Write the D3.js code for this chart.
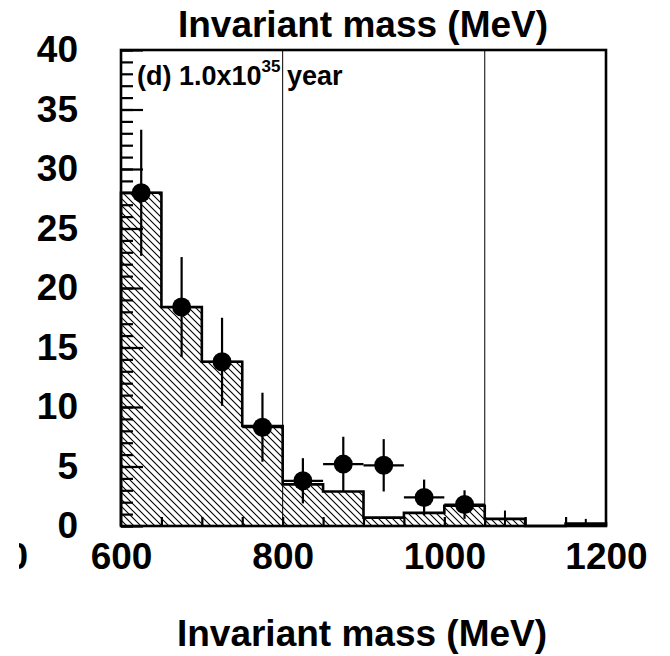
<!DOCTYPE html>
<html><head><meta charset="utf-8">
<script src="https://cdn.jsdelivr.net/npm/d3@7"></script>
<style>body{margin:0;background:#fff;overflow:hidden}</style>
</head><body>
<script>
// ---- data ----
const binEdges = [600,650,700,750,800,850,900,950,1000,1050,1100,1150,1200];
const histValues = [28.0,18.4,13.8,8.4,3.5,2.9,0.7,1.1,1.7,0.6,0,0.2];
const dataX = [625,675,725,775,825,875,925,975,1025];
const dataY = [28.0,18.4,13.8,8.3,3.8,5.2,5.1,2.4,1.8];
const dataErr = [5.3,4.2,3.7,2.9,1.9,2.3,2.2,1.5,1.2];
const zeroBinX = [1075,1175];
const zeroBinErr = [1.3,0.6];
const cutLines = [800,1050];
const xTickLabels = [600,800,1000,1200];
const xMinorTicks = [650,700,750,800,850,900,950,1000,1050,1100,1150];
const yTickLabels = [0,5,10,15,20,25,30,35,40];
const titleText = "Invariant mass (MeV)";
const panelLabel = "(d) 1.0x10";
const panelSup = "35";
const panelTail = "year";

const W = 670, H = 656;
const FONT = "'Liberation Sans', Arial, Helvetica, sans-serif";
const svg = d3.select("body").append("svg").attr("width", W).attr("height", H)
  .style("font-family", FONT);

const x = d3.scaleLinear().domain([600,1200]).range([121,606]);
const y = d3.scaleLinear().domain([0,40]).range([526,50]);

// hatch pattern
const defs = svg.append("defs");
const pat = defs.append("pattern").attr("id","hatch").attr("patternUnits","userSpaceOnUse")
  .attr("width",7).attr("height",7);
pat.append("path").attr("d","M0,0 L7,7 M-1,6 L1,8 M6,-1 L8,1")
  .attr("stroke","#000").attr("stroke-width",1.1);
defs.append("clipPath").attr("id","plotclip").append("rect")
  .attr("x",121).attr("y",50).attr("width",485).attr("height",476);
defs.append("clipPath").attr("id","leftclip").append("rect")
  .attr("x",19).attr("y",520).attr("width",20).attr("height",60);

// histogram area + outline
const hist = histValues.map((v,i)=>({x0:binEdges[i], x1:binEdges[i+1], v}));
const stepPts = [];
hist.forEach(b=>{ stepPts.push([b.x0,b.v]); stepPts.push([b.x1,b.v]); });
const area = d3.area().x(d=>x(d[0])).y0(y(0)).y1(d=>y(d[1]));
svg.append("path").datum(stepPts).attr("d",area).attr("fill","url(#hatch)")
  .attr("clip-path","url(#plotclip)");
const line = d3.line().x(d=>x(d[0])).y(d=>y(d[1]));
svg.append("path").datum([[600,0],...stepPts,[1200,0]]).attr("d",line)
  .attr("fill","none").attr("stroke","#000").attr("stroke-width",2.6);

// cut lines
svg.selectAll("line.cut").data(cutLines).join("line").attr("class","cut")
  .attr("x1",d=>x(d)).attr("x2",d=>x(d)).attr("y1",y(0)).attr("y2",y(40))
  .attr("stroke","#000").attr("stroke-width",1);

// y axis: minor + major ticks inside
svg.append("g").attr("transform",`translate(${x(600)},0)`)
  .call(d3.axisLeft(y).tickValues(d3.range(0,41)).tickSize(-12).tickFormat(""))
  .call(g=>{g.select(".domain").remove(); g.selectAll("line").attr("stroke-width",2.2);});
svg.append("g").attr("transform",`translate(${x(600)},0)`)
  .call(d3.axisLeft(y).tickValues(yTickLabels).tickSize(-22).tickPadding(43))
  .call(g=>{g.select(".domain").remove();
    g.selectAll("line").attr("stroke-width",2.2);
    g.selectAll("text").attr("font-size",37).attr("font-weight","bold").attr("fill","#000")
      .attr("font-family",FONT);});

// x axis ticks inside
svg.append("g").attr("transform",`translate(0,${y(0)})`)
  .call(d3.axisBottom(x).tickValues(xMinorTicks).tickSize(-9).tickFormat(""))
  .call(g=>{g.select(".domain").remove(); g.selectAll("line").attr("stroke-width",2.2);});
svg.append("g").attr("transform",`translate(0,${y(0)})`)
  .call(d3.axisBottom(x).tickValues(xTickLabels).tickSize(0).tickPadding(17).tickFormat(d3.format("d")))
  .call(g=>{g.select(".domain").remove();
    g.selectAll("text").attr("font-size",37).attr("font-weight","bold").attr("fill","#000")
      .attr("font-family",FONT);});

// clipped remnant of neighbouring panel's label
svg.append("text").attr("x",28).attr("y",569).attr("text-anchor","end")
  .attr("font-size",37).attr("font-weight","bold").attr("clip-path","url(#leftclip)")
  .text("1200");

// frame
svg.append("rect").attr("x",x(600)).attr("y",y(40)).attr("width",x(1200)-x(600))
  .attr("height",y(0)-y(40)).attr("fill","none").attr("stroke","#000").attr("stroke-width",2.6);

// data points
const pts = dataX.map((d,i)=>({x:d,y:dataY[i],e:dataErr[i]}));
const gp = svg.append("g");
gp.selectAll("line.ev").data(pts).join("line").attr("class","ev")
  .attr("x1",d=>x(d.x)).attr("x2",d=>x(d.x)).attr("y1",d=>y(d.y+d.e)).attr("y2",d=>y(Math.max(0,d.y-d.e)))
  .attr("stroke","#000").attr("stroke-width",2.2);
gp.selectAll("line.eh").data(pts).join("line").attr("class","eh")
  .attr("x1",d=>x(d.x-25)).attr("x2",d=>x(d.x+25)).attr("y1",d=>y(d.y)).attr("y2",d=>y(d.y))
  .attr("stroke","#000").attr("stroke-width",2.2);
gp.selectAll("circle").data(pts).join("circle")
  .attr("cx",d=>x(d.x)).attr("cy",d=>y(d.y)).attr("r",9.5).attr("fill","#000");
const zb = zeroBinX.map((d,i)=>({x:d,e:zeroBinErr[i]}));
gp.selectAll("line.ez").data(zb).join("line").attr("class","ez")
  .attr("x1",d=>x(d.x)).attr("x2",d=>x(d.x)).attr("y1",d=>y(d.e)).attr("y2",y(0))
  .attr("stroke","#000").attr("stroke-width",2);

// panel label
const lab = svg.append("text").attr("x",137).attr("y",85).attr("font-size",27)
  .attr("font-weight","bold").attr("fill","#000");
lab.append("tspan").text(panelLabel);
lab.append("tspan").attr("dy",-13).attr("font-size",17).text(panelSup);
svg.append("text").attr("x",287).attr("y",85).attr("font-size",27)
  .attr("font-weight","bold").text(panelTail);

// titles
svg.append("text").attr("x",363).attr("y",37).attr("text-anchor","middle")
  .attr("font-size",37).attr("font-weight","bold").text(titleText);
svg.append("text").attr("x",362).attr("y",646).attr("text-anchor","middle")
  .attr("font-size",37).attr("font-weight","bold").text(titleText);
</script>
</body></html>
